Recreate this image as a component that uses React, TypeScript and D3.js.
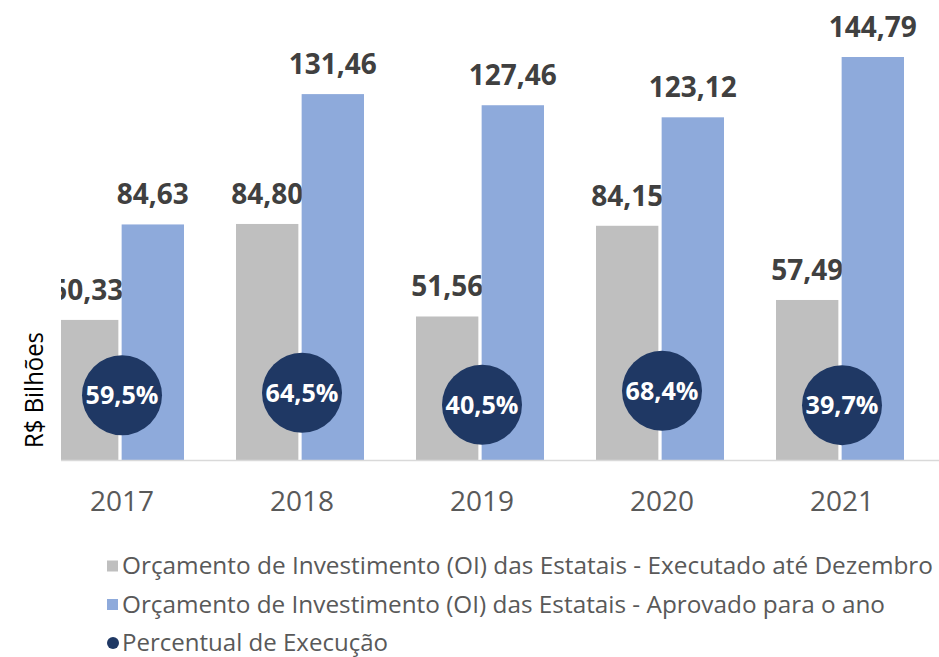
import React from "react";
import * as d3 from "d3";

const years = ["2017", "2018", "2019", "2020", "2021"];
const executado = [50.33, 84.8, 51.56, 84.15, 57.49];
const aprovado = [84.63, 131.46, 127.46, 123.12, 144.79];
const percentual = [59.5, 64.5, 40.5, 68.4, 39.7];
const legendLabels = [
  "Orçamento de Investimento (OI) das Estatais - Executado até Dezembro",
  "Orçamento de Investimento (OI) das Estatais - Aprovado para o ano",
  "Percentual de Execução",
];
const legendWidths = [812, 764, 267];
const yTitle = "R$ Bilhões";

const W = 939;
const H = 657;
const FONT = "'Open Sans', 'Noto Sans', sans-serif";
const GRAY = "#bfbfbf";
const BLUE = "#8eaadb";
const NAVY = "#1f3864";

const fmt = (v: number) => v.toFixed(2).replace(".", ",");
const fmtPct = (v: number) => v.toFixed(1).replace(".", ",") + "%";

export default function App() {
  const x0 = d3.scaleBand<string>().domain(years).range([30, 930]);
  const x1 = d3
    .scaleBand<string>()
    .domain(["exec", "aprov"])
    .range([26, 154])
    .paddingInner(0.05);
  const y = d3.scaleLinear().domain([0, 160]).range([460, 460 - 160 * (403 / 144.79)]);
  const yPct = d3.scaleLinear().domain([0, 100]).range([425, 375]);

  const series = [
    { key: "exec", values: executado, color: GRAY },
    { key: "aprov", values: aprovado, color: BLUE },
  ];

  return (
    <svg width={W} height={H} style={{ position: "absolute", left: 0, top: 0, background: "#fff" }}>
      <defs>
        <clipPath id="plotClip">
          <rect x={61} y={0} width={W - 61} height={H} />
        </clipPath>
      </defs>
      <g clipPath="url(#plotClip)">
        {series.map((s) =>
          years.map((yr, i) => {
            const bx = (x0(yr) as number) + (x1(s.key) as number);
            const bw = x1.bandwidth();
            const top = y(s.values[i]);
            return (
              <g key={s.key + yr}>
                <rect x={bx} y={top} width={bw} height={y(0) - top} fill={s.color} />
                <text
                  x={bx + bw / 2}
                  y={top - 20}
                  textAnchor="middle"
                  fontFamily={FONT}
                  fontWeight={700}
                  fontSize={28}
                  fill="#404040"
                >
                  {fmt(s.values[i])}
                </text>
              </g>
            );
          })
        )}
        <line x1={61} x2={W} y1={460.5} y2={460.5} stroke="#d9d9d9" strokeWidth={1.5} />
        {years.map((yr, i) => {
          const cx = (x0(yr) as number) + x0.bandwidth() / 2 + 2;
          const cy = yPct(percentual[i]);
          return (
            <g key={"p" + yr}>
              <circle cx={cx} cy={cy} r={40} fill={NAVY} />
              <text
                x={cx}
                y={cy}
                dy="0.36em"
                textAnchor="middle"
                fontFamily={FONT}
                fontWeight={700}
                fontSize={25}
                fill="#ffffff"
                textLength={73}
                lengthAdjust="spacingAndGlyphs"
              >
                {fmtPct(percentual[i])}
              </text>
            </g>
          );
        })}
      </g>
      {years.map((yr) => (
        <text
          key={"t" + yr}
          x={(x0(yr) as number) + x0.bandwidth() / 2 + 2}
          y={511}
          textAnchor="middle"
          fontFamily={FONT}
          fontSize={28}
          fill="#595959"
        >
          {yr}
        </text>
      ))}
      <text
        transform="translate(43,390) rotate(-90)"
        textAnchor="middle"
        fontFamily={FONT}
        fontSize={25}
        fill="#000"
        textLength={116}
        lengthAdjust="spacingAndGlyphs"
      >
        {yTitle}
      </text>
      {legendLabels.map((lab, i) => {
        const cy = 566 + i * 38.5;
        return (
          <g key={"l" + i}>
            {i < 2 ? (
              <rect x={107} y={cy - 5.5} width={11} height={11} fill={i === 0 ? GRAY : BLUE} />
            ) : (
              <circle cx={113} cy={cy} r={6} fill={NAVY} />
            )}
            <text
              x={122}
              y={cy}
              dy="0.35em"
              fontFamily={FONT}
              fontSize={23}
              fill="#595959"
              textLength={legendWidths[i] - 1}
              lengthAdjust="spacingAndGlyphs"
            >
              {lab}
            </text>
          </g>
        );
      })}
    </svg>
  );
}
